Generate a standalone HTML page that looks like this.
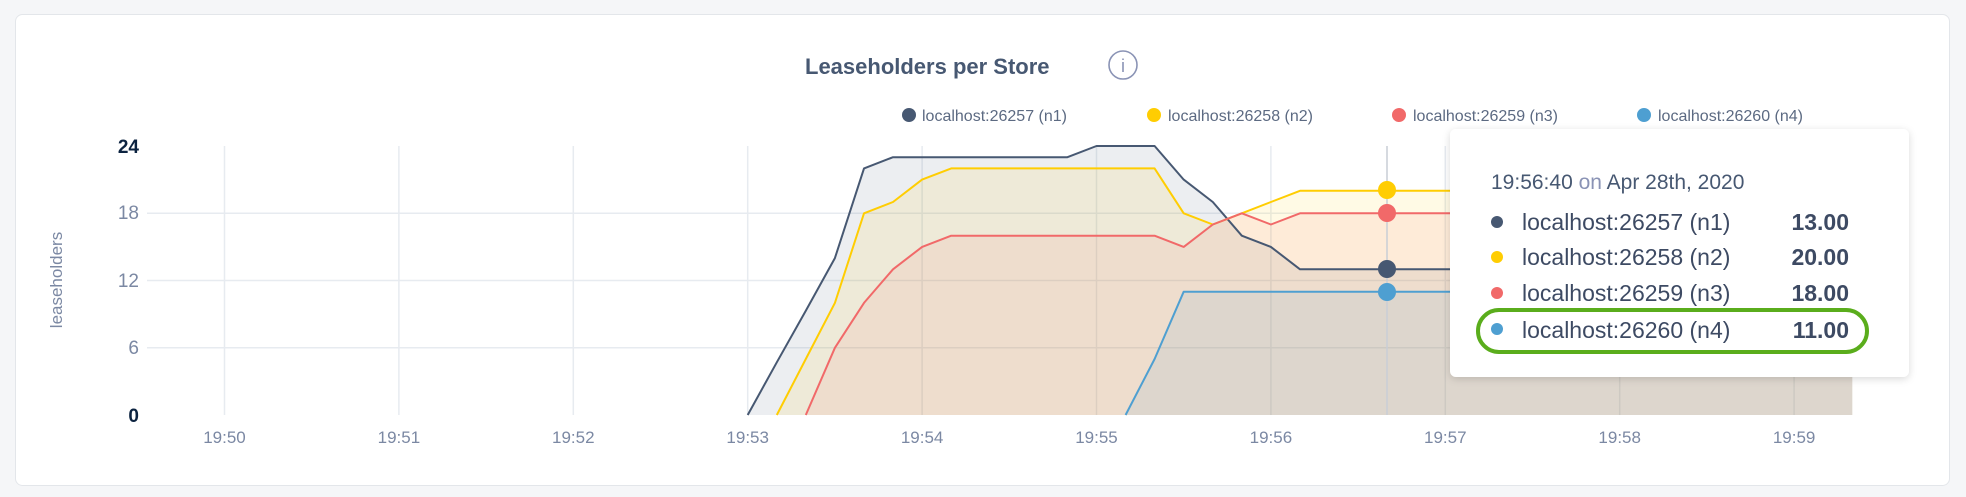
<!DOCTYPE html>
<html><head><meta charset="utf-8"><style>
html,body{margin:0;padding:0;background:#f5f6f8;}
svg{display:block;font-family:"Liberation Sans",sans-serif;}
</style></head><body>
<svg id="s" width="1966" height="497" viewBox="0 0 1966 497" xmlns="http://www.w3.org/2000/svg">
<defs>
<filter id="sh" x="-10%" y="-10%" width="120%" height="130%"><feDropShadow dx="0" dy="2" stdDeviation="4" flood-color="#000" flood-opacity="0.15"/></filter>
</defs>
<rect x="15.5" y="14.5" width="1934" height="471" rx="7" fill="#fff" stroke="#e3e6ea"/>
<text x="805" y="74" font-size="22" font-weight="bold" fill="#475872">Leaseholders per Store</text>
<circle cx="1123" cy="65" r="14" fill="none" stroke="#8a93b5" stroke-width="1.6"/>
<text x="1123" y="72" font-size="18" text-anchor="middle" fill="#8a93b5">i</text>
<g font-size="16" fill="#5c6a82">
<circle cx="909" cy="115" r="7" fill="#475872"/><text x="922" y="121">localhost:26257 (n1)</text>
<circle cx="1154" cy="115" r="7" fill="#ffcd02"/><text x="1168" y="121">localhost:26258 (n2)</text>
<circle cx="1399" cy="115" r="7" fill="#f16969"/><text x="1413" y="121">localhost:26259 (n3)</text>
<circle cx="1644" cy="115" r="7" fill="#4e9fd1"/><text x="1658" y="121">localhost:26260 (n4)</text>
</g>
<g id="grid" stroke="#e7ebf0" stroke-width="1.5"></g>
<g font-size="19">
<text x="139" y="153" text-anchor="end" font-weight="bold" fill="#0c2340">24</text>
<text x="139" y="219" text-anchor="end" fill="#7b88a3">18</text>
<text x="139" y="287" text-anchor="end" fill="#7b88a3">12</text>
<text x="139" y="354" text-anchor="end" fill="#7b88a3">6</text>
<text x="139" y="422" text-anchor="end" font-weight="bold" fill="#0c2340">0</text>
</g>
<text transform="translate(62,280) rotate(-90)" font-size="17" text-anchor="middle" fill="#7b88a3">leaseholders</text>
<g id="xl" font-size="17" fill="#7b88a3" text-anchor="middle"></g>
<g id="series"></g>
<line x1="1387" y1="146" x2="1387" y2="415" stroke="#c9ced6" stroke-width="1.5"/>
<circle cx="1387" cy="190" r="9" fill="#ffcd02"/>
<circle cx="1387" cy="213" r="9" fill="#f16969"/>
<circle cx="1387" cy="269" r="9" fill="#475872"/>
<circle cx="1387" cy="292" r="9" fill="#4e9fd1"/>
<rect x="1450" y="129" width="459" height="248" rx="6" fill="#fff" filter="url(#sh)"/>
<text x="1491" y="189" font-size="21" fill="#475872">19:56:40 <tspan fill="#8a93b5">on</tspan> Apr 28th, 2020</text>
<g font-size="23" fill="#3d4a63">
<circle cx="1497" cy="222" r="6" fill="#475872"/><text x="1522" y="230">localhost:26257 (n1)</text><text x="1849" y="230" text-anchor="end" font-weight="bold">13.00</text>
<circle cx="1497" cy="257" r="6" fill="#ffcd02"/><text x="1522" y="265">localhost:26258 (n2)</text><text x="1849" y="265" text-anchor="end" font-weight="bold">20.00</text>
<circle cx="1497" cy="293" r="6" fill="#f16969"/><text x="1522" y="301">localhost:26259 (n3)</text><text x="1849" y="301" text-anchor="end" font-weight="bold">18.00</text>
<circle cx="1497" cy="329" r="6" fill="#4e9fd1"/><text x="1522" y="338">localhost:26260 (n4)</text><text x="1849" y="338" text-anchor="end" font-weight="bold">11.00</text>
</g>
<rect x="1478" y="310" width="389" height="42" rx="21" fill="none" stroke="#5aad1c" stroke-width="4"/>
</svg>
<script>
var NS="http://www.w3.org/2000/svg";
function el(p,t,a,txt){var e=document.createElementNS(NS,t);for(var k in a)e.setAttribute(k,a[k]);if(txt)e.textContent=txt;p.appendChild(e);return e;}
function X(k){return 224.5+k*29.067;}function Y(v){return 415-v*11.208;}
var g=document.getElementById('grid'),xl=document.getElementById('xl');
[18,12,6].forEach(function(v){el(g,'line',{x1:147,x2:1853,y1:Y(v),y2:Y(v)});});
for(var m=0;m<10;m++){var x=224.5+m*174.4;el(g,'line',{x1:x,x2:x,y1:146,y2:415});el(xl,'text',{x:x,y:443},'19:5'+m);}
function build(start,vals){var a=vals.slice();while(start+a.length-1<56)a.push(a[a.length-1]);return a.map(function(v,i){return [X(start+i),Y(v)];});}
var S=[
{c:"#475872",s:18,v:[0,4.7,9.3,14,22,23,23,23,23,23,23,23,24,24,24,21,19,16,15,13]},
{c:"#ffcd02",s:19,v:[0,5,10,18,19,21,22,22,22,22,22,22,22,22,18,17,18,19,20]},
{c:"#f16969",s:20,v:[0,6,10,13,15,16,16,16,16,16,16,16,16,15,17,18,17,18]},
{c:"#4e9fd1",s:31,v:[0,5,11]}];
var sg=document.getElementById('series');
S.forEach(function(o){o.p=build(o.s,o.v);var d="M"+o.p.map(function(p){return p[0].toFixed(1)+","+p[1].toFixed(1);}).join("L");o.d=d;
el(sg,'path',{d:d+"L"+o.p[o.p.length-1][0].toFixed(1)+",415L"+o.p[0][0].toFixed(1)+",415Z",fill:o.c,'fill-opacity':0.1});});
S.forEach(function(o){el(sg,'path',{d:o.d,fill:'none',stroke:o.c,'stroke-width':2,'stroke-linejoin':'round'});});
</script>
</body></html>
